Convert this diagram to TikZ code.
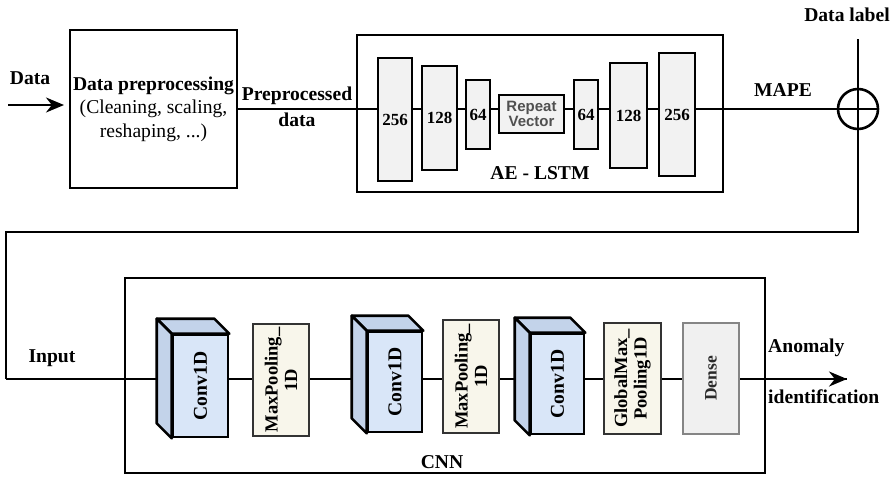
\documentclass[tikz,border=0pt]{standalone}
\usepackage{fontspec}
\setmainfont{Liberation Serif}
\newfontfamily\rvfont{Liberation Sans}
\usetikzlibrary{arrows.meta,calc}
\definecolor{lstmfill}{HTML}{F2F2F2}
\definecolor{convfront}{HTML}{D9E6F8}
\definecolor{convside}{HTML}{C3D3EA}
\definecolor{poolfill}{HTML}{F8F6EB}
\definecolor{densefill}{HTML}{F0F0F0}
\definecolor{densedraw}{HTML}{858585}
\definecolor{densetext}{HTML}{2A2A2A}
\definecolor{rvtext}{HTML}{505050}
\newcommand{\convblock}[6]{%
  \node[convf, minimum width=#4, minimum height=#5] (#1) at (#2,#3) {};
  \filldraw[convs] (#1.north west) -- ++(-#6,-#6) -- ($(#1.north east)+(-#6,-#6)$) -- (#1.north east) -- cycle;
  \filldraw[convs] (#1.north west) -- ++(-#6,-#6) -- ($(#1.south west)+(-#6,-#6)$) -- (#1.south west) -- cycle;
  \node[lbl, rotate=90] (#1t) at (#1.center) {Conv1D};
}
\begin{document}
\begin{tikzpicture}[x=1pt,y=-1pt,
  lbl/.style={font=\fontsize{19.6}{21}\selectfont\bfseries, inner sep=0pt},
  box/.style={draw, line width=2.6pt, inner sep=0pt},
  lstm/.style={box, fill=lstmfill, font=\fontsize{17}{18}\selectfont\bfseries},
  convf/.style={box, fill=convfront},
  convs/.style={draw, line width=2.6pt, line join=round, fill=convside},
  pool/.style={box, draw=black!80, fill=poolfill},
  conn/.style={line width=2.4pt},
  arr/.style={conn, -{Stealth[length=18pt,width=15pt]}}
]
\useasboundingbox (0,0) rectangle (894,477);

% top row nodes
\node[box, minimum width=167, minimum height=158, align=center,
      font=\fontsize{19.6}{23.5}\selectfont] (pre) at (153.5,109)
  {\textbf{Data preprocessing}\\(Cleaning, scaling,\\reshaping, ...)};
\node[box, minimum width=366, minimum height=157] (ae) at (540,113.5) {};
\node[draw, circle, line width=2.6pt, minimum size=40, inner sep=0pt] (circ) at (858,109) {};

% connectors top
\coordinate (din) at (8,105);
\coordinate (dend) at (64,105);
\draw[arr] (din) -- (dend);
\draw[conn] (pre.east) -- (circ.west);
\coordinate (dl) at (858,39);
\draw[conn] (dl) -- (circ.north);
\draw[conn] (circ.north) -- (circ.south);
\draw[conn] (circ.west) -- (circ.east);
\coordinate (c1) at (858,232);
\coordinate (c2) at (6,232);
\coordinate (c3) at (6,379);
\coordinate (out) at (847,379);
\draw[conn] (circ.south) -- (c1) -- (c2) -- (c3);
\draw[arr] (c3) -- (out);

% AE-LSTM blocks
\node[lstm, minimum width=34, minimum height=123] (b1) at (395,119.5) {256};
\node[lstm, minimum width=35, minimum height=104] (b2) at (439.5,118) {128};
\node[lstm, minimum width=24, minimum height=69] (b3) at (478,114.5) {64};
\node[lstm, minimum width=65, minimum height=38, align=center,
      font=\rvfont\fontsize{15}{14.5}\selectfont\bfseries, text=rvtext] (rv) at (531.5,114) {Repeat\\Vector};
\node[lstm, minimum width=24, minimum height=69] (b5) at (586,114.5) {64};
\node[lstm, minimum width=37, minimum height=105] (b6) at (628.5,115.5) {128};
\node[lstm, minimum width=36, minimum height=123] (b7) at (677,114.5) {256};
\node[lbl] (aelbl) at (540,173) {AE - LSTM};

% CNN
\node[box, minimum width=640, minimum height=195] (cnn) at (445,375.5) {};
\draw[conn] (c3) -- (out);
\convblock{cv1}{200.5}{386}{55}{102}{15}
\node[pool, minimum width=56, minimum height=112] (mp1) at (281,380) {};
\node[lbl, rotate=90, align=center, font=\fontsize{18.5}{19.5}\selectfont\bfseries] (mp1t) at (mp1.center) {MaxPooling\_\\1D};
\convblock{cv2}{395}{382}{54}{100}{15}
\node[pool, minimum width=56, minimum height=113] (mp2) at (471,376.5) {};
\node[lbl, rotate=90, align=center, font=\fontsize{18.5}{19.5}\selectfont\bfseries] (mp2t) at (mp2.center) {MaxPooling\_\\1D};
\convblock{cv3}{557.5}{384}{53}{100}{15}
\node[pool, minimum width=57, minimum height=111] (gm) at (632.5,378.5) {};
\node[lbl, rotate=90, align=center, font=\fontsize{18.5}{19.5}\selectfont\bfseries] (gmt) at (gm.center) {GlobalMax\_\\Pooling1D};
\node[box, draw=densedraw, fill=densefill, minimum width=56, minimum height=111] (dense) at (711,378.5) {};
\node[lbl, rotate=90, text=densetext, font=\fontsize{17.5}{18}\selectfont\bfseries] (denset) at (dense.center) {Dense};
\node[lbl] (cnnlbl) at (442,462) {CNN};

% labels
\node[lbl] (ldata) at (30,78) {Data};
\node[lbl] (lpre1) at (297,96) {Preprocessed};
\node[lbl] (lpre2) at (297,120) {data};
\node[lbl] (lmape) at (783,90) {MAPE};
\node[lbl] (ldl) at (847,15) {Data label};
\node[lbl] (linput) at (52,358) {Input};
\node[lbl, anchor=west] (lan1) at (768,348) {Anomaly};
\node[lbl, anchor=west] (lan2) at (768,397) {identification};
\end{tikzpicture}
\end{document}
